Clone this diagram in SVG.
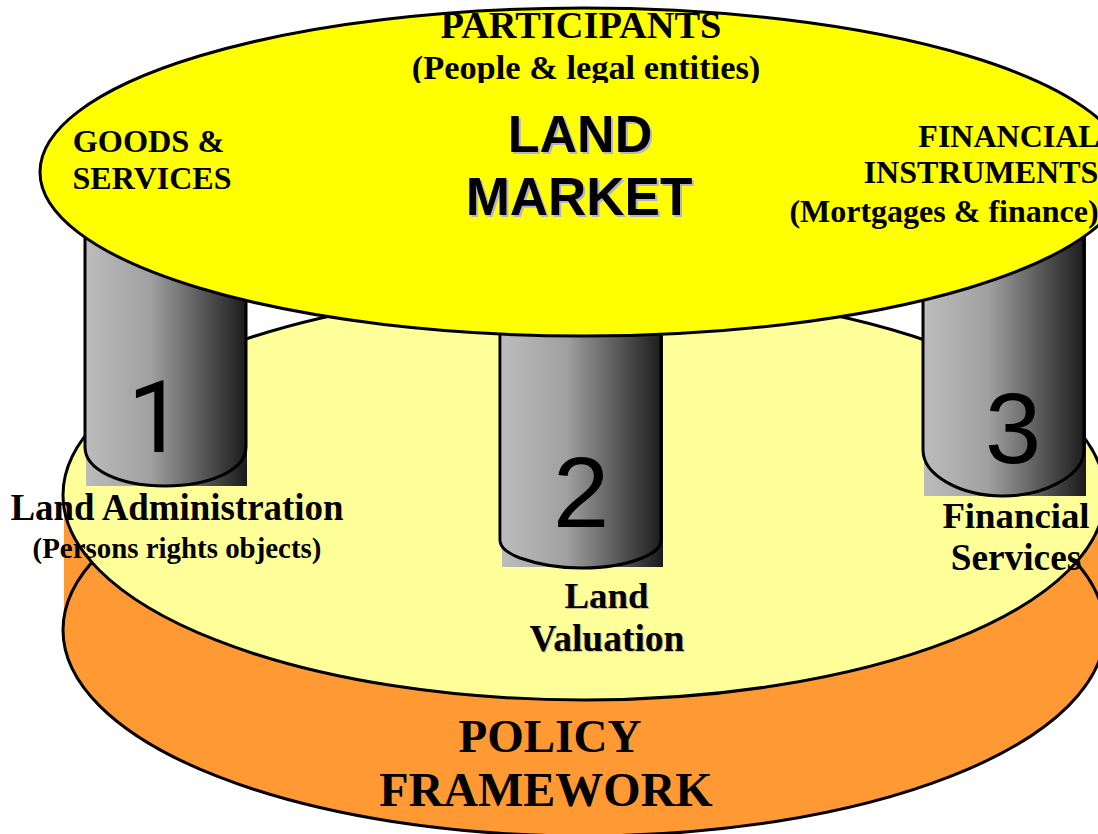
<svg xmlns="http://www.w3.org/2000/svg" width="1098" height="834" viewBox="0 0 1098 834">
<style>
.o{stroke:#000;stroke-width:3}
.e{fill:none;stroke:#000;stroke-width:3}
text{font-family:"Liberation Serif","Times New Roman",serif;font-weight:bold;fill:#000;text-anchor:middle}
.s{font-family:"Liberation Sans",Arial,sans-serif}
.n{font-family:"Liberation Sans",Arial,sans-serif;font-weight:normal;font-size:101px}
.sh{fill:#b4b4c8}
.sl{fill:#c4c49a}
</style>
<defs>
<linearGradient id="g"><stop offset="0" stop-color="#bcbcbc"/><stop offset=".4" stop-color="#a0a0a0"/><stop offset="1" stop-color="#1a1a1a"/></linearGradient>
<clipPath id="c1"><rect x="400" y="13" width="400" height="70"/></clipPath>
</defs>
<rect width="1098" height="834" fill="#fff"/>
<g id="policy">
<rect x="64" y="495" width="1034" height="135" fill="#f93"/>
<ellipse cx="584" cy="630" rx="521" ry="206" fill="#f93" class="o"/>
<text x="550" y="752" font-size="47">POLICY</text>
<text x="546" y="806" font-size="48">FRAMEWORK</text>
</g>
<g id="base">
<ellipse cx="584" cy="495" rx="521" ry="205" fill="#ff9" class="o"/>
</g>
<g id="pillar1">
<path d="M86 225H247V486H86Z" fill="url(#g)"/>
<path d="M85 225V447C85 470 120 486 165 486C210 486 246 470 246 447V225" class="e"/>
<text class="n" style="font-family:Roboto,sans-serif" x="156" y="452">1</text>
</g>
<g id="pillar2">
<path d="M502 300H663V567H502Z" fill="url(#g)"/>
<path d="M500 300V540C500 548 508 553 520 558C540 565 560 568 581 568C605 568 625 565 642 558C654 553 661 548 661 540V300" class="e"/>
<text class="n" x="581" y="527">2</text>
</g>
<g id="pillar3">
<path d="M924 210H1086V496H924Z" fill="url(#g)"/>
<path d="M923 210V450C923 475 960 496 1003 496C1045 496 1084 475 1084 450V210" class="e"/>
<text class="n" x="1013" y="463">3</text>
</g>
<g id="market">
<ellipse cx="584" cy="172" rx="544" ry="164" fill="#ff0" class="o"/>
<g clip-path="url(#c1)">
<text x="581" y="38" font-size="38.400">PARTICIPANTS</text>
<text x="586" y="79" font-size="34.400">(People &amp; legal entities)</text>
</g>
<text x="148.500" y="152" font-size="32.300">GOODS &amp;</text>
<text x="152" y="189" font-size="32">SERVICES</text>
<text x="1009" y="147" font-size="32">FINANCIAL</text>
<text x="981" y="183" font-size="32">INSTRUMENTS</text>
<text x="944" y="222" font-size="32">(Mortgages &amp; finance)</text>
<text class="s sh" x="582" y="154" font-size="52">LAND</text>
<text class="s sh" x="581" y="217" font-size="53">MARKET</text>
<text class="s" x="580" y="152" font-size="52">LAND</text>
<text class="s" x="579" y="215" font-size="53">MARKET</text>
</g>
<g id="labels">
<text x="177" y="520" font-size="36.900">Land Administration</text>
<text x="177" y="558" font-size="28.900">(Persons rights objects)</text>
<text class="sl" x="607.500" y="609" font-size="36.800">Land</text>
<text class="sl" x="608" y="652" font-size="37.500">Valuation</text>
<text x="606.500" y="608" font-size="36.800">Land</text>
<text x="607" y="651" font-size="37.500">Valuation</text>
<text x="1016" y="528" font-size="36.800">Financial</text>
<text x="1016" y="570" font-size="37.300">Services</text>
</g>
<g id="connectors"/>
</svg>
